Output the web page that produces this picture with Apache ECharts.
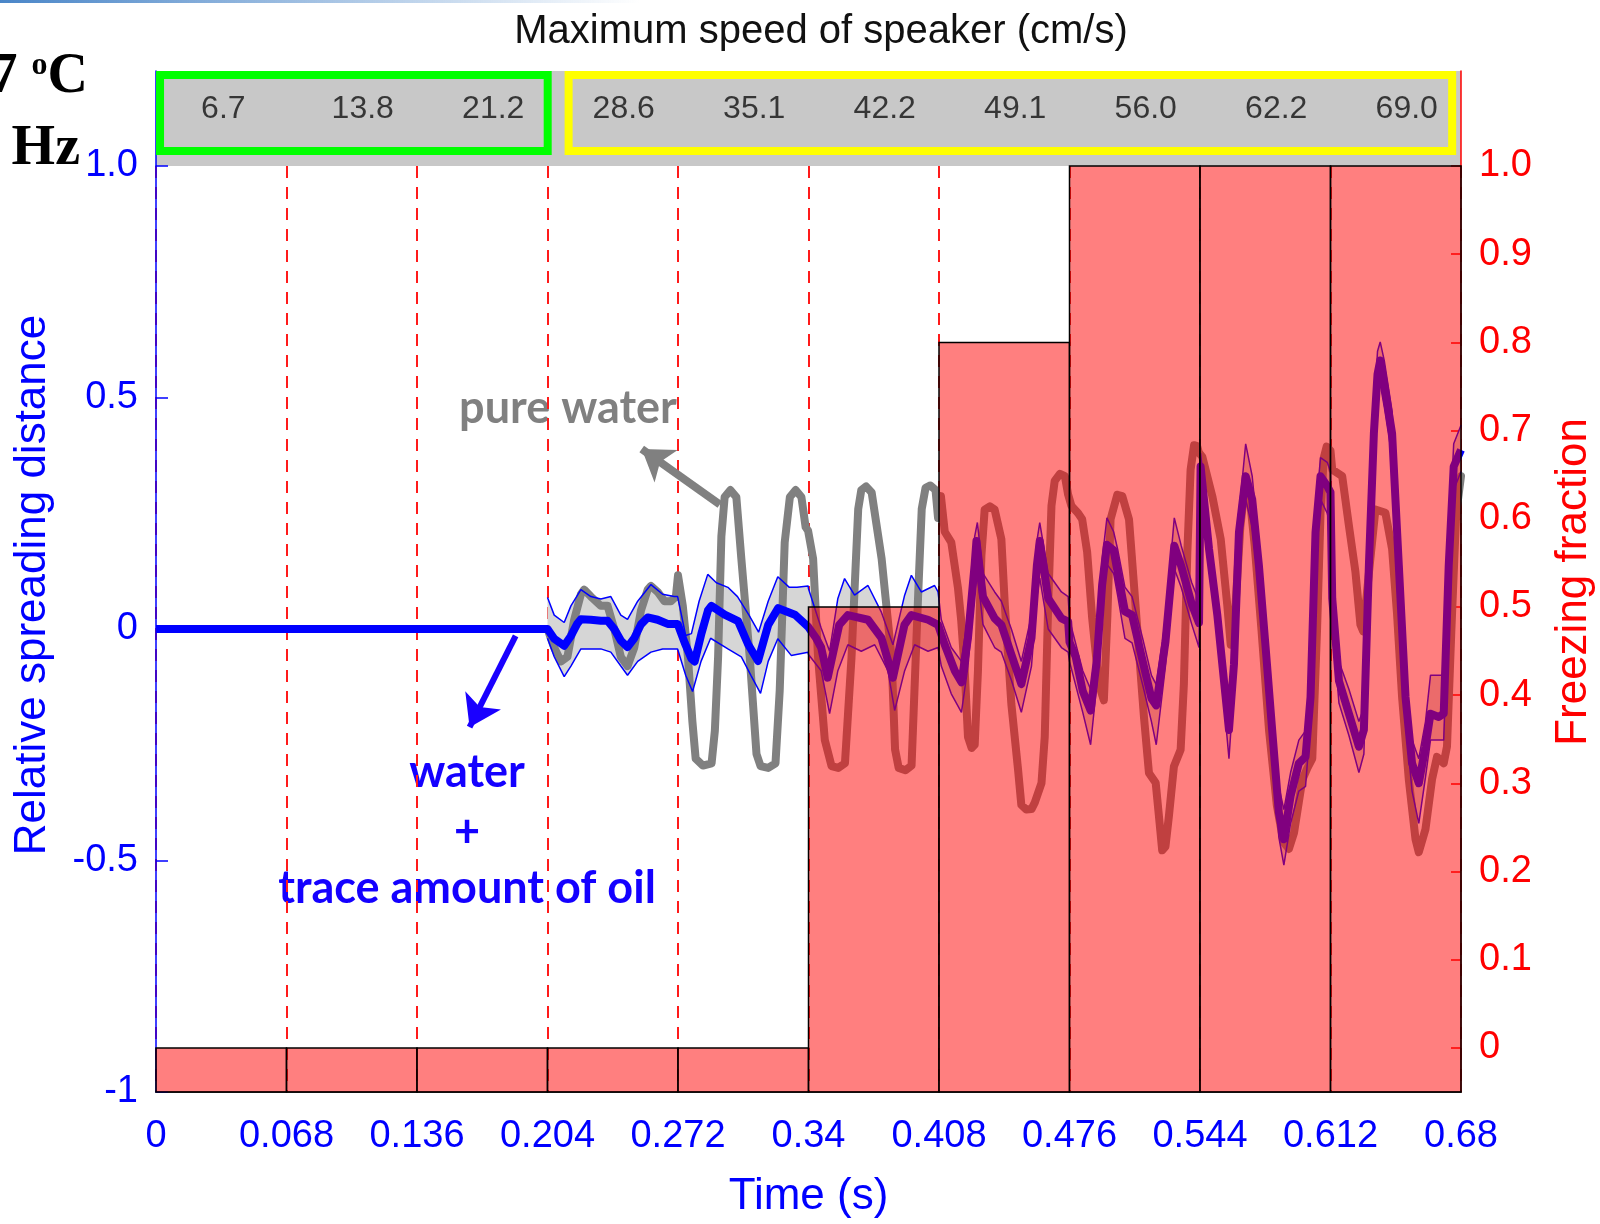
<!DOCTYPE html>
<html>
<head>
<meta charset="utf-8">
<title>Spreading distance and freezing fraction</title>
<script src="https://cdn.jsdelivr.net/npm/echarts@6/dist/echarts.min.js"></script>
<style>
  html, body { margin: 0; padding: 0; background: #fff; }
  #chart { width: 1600px; height: 1224px; }
</style>
</head>
<body>
<div id="chart"></div>
<script>
// --- data ---
var segEdges = [0, 0.068, 0.136, 0.204, 0.272, 0.34, 0.408, 0.476, 0.544, 0.612, 0.68];
var speeds = ['6.7', '13.8', '21.2', '28.6', '35.1', '42.2', '49.1', '56.0', '62.2', '69.0'];
var freezeFrac = [0, 0, 0, 0, 0, 0.5, 0.8, 1, 1, 1];
var freezeTicks = [0, 0.1, 0.2, 0.3, 0.4, 0.5, 0.6, 0.7, 0.8, 0.9, 1.0];

// water + trace amount of oil: mean curve
var meanOil = [
  [0, 0], [0.204, 0],
  [0.2075, -0.021], [0.2127, -0.036], [0.2162, -0.015], [0.2196, 0.012], [0.2214, 0.021], [0.2266, 0.02],
  [0.2318, 0.018], [0.2353, 0.018], [0.2388, 0.0], [0.2422, -0.025], [0.2457, -0.039], [0.2492, -0.02],
  [0.2527, 0.01], [0.2562, 0.025], [0.2614, 0.02], [0.2666, 0.011], [0.2718, 0.011],
  [0.2755, -0.03], [0.279, -0.064], [0.2807, -0.07], [0.2842, -0.01], [0.2876, 0.04], [0.2894, 0.05],
  [0.2963, 0.031], [0.3033, 0.017], [0.3085, -0.033], [0.3137, -0.069], [0.319, 0.009], [0.3242, 0.045],
  [0.3329, 0.031], [0.3398, 0.005],
  [0.344, -0.02], [0.3466, -0.04], [0.35, -0.105], [0.356, 0.009], [0.3605, 0.03], [0.371, 0.02],
  [0.378, -0.019], [0.384, -0.105], [0.39, 0.009], [0.3936, 0.03], [0.4023, 0.02], [0.4075, 0.009],
  [0.411, -0.034], [0.4162, -0.09], [0.4197, -0.115], [0.4231, -0.019], [0.4266, 0.14], [0.4275, 0.19],
  [0.4309, 0.07], [0.437, 0.023], [0.4405, 0.009], [0.4457, -0.055], [0.4509, -0.119], [0.4562, -0.019],
  [0.459, 0.137], [0.4605, 0.19], [0.4649, 0.066], [0.4718, 0.023], [0.4753, 0.016],
  [0.476, -0.028], [0.4792, -0.06], [0.4829, -0.134], [0.487, -0.176], [0.4902, -0.069], [0.493, 0.095],
  [0.4955, 0.182], [0.499, 0.17], [0.5012, 0.12], [0.5049, 0.038], [0.5086, 0.03], [0.5141, -0.069],
  [0.5187, -0.15], [0.5212, -0.165], [0.526, -0.028], [0.5306, 0.18], [0.5342, 0.136], [0.5397, 0.054],
  [0.5435, 0.013],
  [0.5443, 0.351], [0.5487, 0.173], [0.553, 0.031], [0.5565, -0.112], [0.5591, -0.218], [0.5617, -0.076],
  [0.5643, 0.209], [0.5678, 0.33], [0.5712, 0.28], [0.5747, 0.137], [0.5782, -0.04], [0.5816, -0.218],
  [0.5851, -0.397], [0.5877, -0.454], [0.5912, -0.361], [0.5955, -0.29], [0.599, -0.276], [0.6016, -0.147],
  [0.6042, 0.209], [0.6068, 0.33], [0.6103, 0.309], [0.612, 0.295],
  [0.6129, 0.066], [0.6164, -0.112], [0.6216, -0.183], [0.6268, -0.254], [0.6294, -0.218], [0.632, 0.137],
  [0.6346, 0.422], [0.6365, 0.55], [0.6379, 0.58], [0.64, 0.53], [0.6441, 0.422], [0.6476, 0.137],
  [0.6511, -0.147], [0.6545, -0.29], [0.658, -0.333], [0.6615, -0.254], [0.6641, -0.183], [0.6684, -0.19],
  [0.671, -0.183], [0.6736, 0.137], [0.6762, 0.351], [0.68, 0.387]
];

// thin upper / lower bounds around the mean
var upperOil = [
  [0.204, 0.068], [0.2075, 0.03], [0.2127, 0.014], [0.2162, 0.05], [0.2214, 0.085], [0.2266, 0.07],
  [0.2318, 0.065], [0.237, 0.07], [0.2422, 0.03], [0.2457, 0.021], [0.251, 0.06], [0.2579, 0.096],
  [0.264, 0.075], [0.27, 0.07], [0.2718, 0.07], [0.276, -0.014], [0.279, -0.01], [0.283, 0.06],
  [0.2875, 0.118], [0.292, 0.1], [0.298, 0.09], [0.303, 0.07], [0.309, 0.03], [0.314, -0.007],
  [0.319, 0.06], [0.324, 0.113], [0.33, 0.09], [0.334, 0.09], [0.3398, 0.093],
  [0.34, 0.087], [0.3466, 0.002], [0.351, -0.048], [0.3553, 0.066], [0.3588, 0.109], [0.364, 0.073],
  [0.371, 0.094], [0.3779, 0.037], [0.384, -0.034], [0.3901, 0.073], [0.3936, 0.116], [0.3988, 0.08],
  [0.4057, 0.094], [0.4075, 0.08],
  [0.4092, 0.02], [0.4144, -0.04], [0.4197, -0.07], [0.4231, 0.03], [0.4266, 0.2], [0.428, 0.23],
  [0.4309, 0.12], [0.437, 0.08], [0.4405, 0.06], [0.4457, 0.0], [0.4509, -0.07], [0.4562, 0.03],
  [0.459, 0.19], [0.4605, 0.23], [0.4649, 0.12], [0.4718, 0.08], [0.4753, 0.07],
  [0.476, 0.02], [0.4829, -0.09], [0.487, -0.13], [0.4902, -0.02], [0.493, 0.15], [0.4955, 0.24],
  [0.499, 0.21], [0.5012, 0.17], [0.5049, 0.09], [0.5086, 0.07], [0.5141, -0.02], [0.5187, -0.1],
  [0.5212, -0.12], [0.526, 0.02], [0.5306, 0.24], [0.5342, 0.18], [0.5397, 0.1], [0.5435, 0.06],
  [0.5443, 0.38], [0.5487, 0.21], [0.553, 0.07], [0.5565, -0.07], [0.5591, -0.17], [0.5617, -0.03],
  [0.5643, 0.25], [0.5678, 0.4], [0.5712, 0.33], [0.5747, 0.18], [0.5782, 0.0], [0.5816, -0.17],
  [0.5851, -0.34], [0.5877, -0.39], [0.5912, -0.31], [0.5955, -0.24], [0.599, -0.22], [0.6016, -0.1],
  [0.6042, 0.25], [0.6068, 0.37], [0.6103, 0.36], [0.612, 0.34],
  [0.6129, 0.11], [0.6164, -0.07], [0.6216, -0.13], [0.6268, -0.2], [0.6294, -0.17], [0.632, 0.18],
  [0.6346, 0.47], [0.6365, 0.6], [0.6379, 0.62], [0.64, 0.58], [0.6441, 0.47], [0.6476, 0.18],
  [0.6511, -0.1], [0.6545, -0.24], [0.658, -0.28], [0.6615, -0.2], [0.6641, -0.1], [0.6684, -0.1],
  [0.671, -0.1], [0.6736, 0.18], [0.6762, 0.4], [0.68, 0.44]
];
var lowerOil = [
  [0.204, -0.02], [0.2075, -0.06], [0.2127, -0.103], [0.2162, -0.08], [0.2214, -0.043], [0.2318, -0.043],
  [0.237, -0.05], [0.2422, -0.08], [0.2457, -0.1], [0.251, -0.07], [0.2579, -0.05], [0.264, -0.043],
  [0.2718, -0.043], [0.276, -0.1], [0.2796, -0.135], [0.284, -0.07], [0.289, -0.02], [0.298, -0.043],
  [0.305, -0.06], [0.31, -0.1], [0.315, -0.139], [0.319, -0.07], [0.324, -0.021], [0.331, -0.057],
  [0.3398, -0.05],
  [0.34, -0.055], [0.3466, -0.09], [0.351, -0.183], [0.3553, -0.09], [0.3605, -0.034], [0.3675, -0.048],
  [0.3745, -0.034], [0.3814, -0.09], [0.3849, -0.176], [0.3901, -0.09], [0.3953, -0.034], [0.4023, -0.048],
  [0.4075, -0.04],
  [0.4092, -0.08], [0.4144, -0.14], [0.4197, -0.18], [0.4231, -0.08], [0.4266, 0.08], [0.428, 0.12],
  [0.4309, 0.01], [0.437, -0.04], [0.4405, -0.05], [0.4457, -0.11], [0.4509, -0.18], [0.4562, -0.08],
  [0.459, 0.07], [0.4605, 0.11], [0.4649, 0.0], [0.4718, -0.04], [0.4753, -0.05],
  [0.476, -0.07], [0.4829, -0.18], [0.487, -0.25], [0.4902, -0.12], [0.493, 0.05], [0.4955, 0.14],
  [0.499, 0.12], [0.5012, 0.07], [0.5049, -0.02], [0.5086, -0.03], [0.5141, -0.12], [0.5187, -0.2],
  [0.5212, -0.25], [0.526, -0.08], [0.5306, 0.13], [0.5342, 0.09], [0.5397, 0.01], [0.5435, -0.04],
  [0.5443, 0.31], [0.5487, 0.13], [0.553, -0.01], [0.5565, -0.16], [0.5591, -0.28], [0.5617, -0.12],
  [0.5643, 0.16], [0.5678, 0.28], [0.5712, 0.22], [0.5747, 0.09], [0.5782, -0.09], [0.5816, -0.27],
  [0.5851, -0.45], [0.5877, -0.51], [0.5912, -0.42], [0.5955, -0.35], [0.599, -0.34], [0.6016, -0.2],
  [0.6042, 0.16], [0.6068, 0.28], [0.6103, 0.25], [0.612, 0.22],
  [0.6129, 0.02], [0.6164, -0.16], [0.6216, -0.23], [0.6268, -0.31], [0.6294, -0.27], [0.632, 0.09],
  [0.6346, 0.37], [0.6365, 0.5], [0.6379, 0.53], [0.64, 0.48], [0.6441, 0.37], [0.6476, 0.09],
  [0.6511, -0.2], [0.6545, -0.35], [0.658, -0.42], [0.6615, -0.32], [0.6641, -0.24], [0.6684, -0.24],
  [0.671, -0.24], [0.6736, 0.09], [0.6762, 0.3], [0.68, 0.34]
];

// pure water
var pureWater = [
  [0.204, 0.0], [0.2075, -0.04], [0.211, -0.07], [0.2144, -0.06], [0.2179, 0.02], [0.2214, 0.075],
  [0.2231, 0.085], [0.2266, 0.07], [0.2318, 0.05], [0.2353, 0.05], [0.2388, 0.0], [0.2422, -0.06],
  [0.2457, -0.08], [0.2492, -0.04], [0.2527, 0.04], [0.2562, 0.085], [0.2579, 0.093], [0.2614, 0.08],
  [0.2649, 0.06], [0.2683, 0.06], [0.2709, 0.07], [0.272, 0.116],
  [0.2745, 0.05], [0.2772, -0.062], [0.2795, -0.2], [0.2812, -0.28], [0.285, -0.295], [0.2895, -0.29],
  [0.2912, -0.22], [0.2929, -0.06], [0.2946, 0.2], [0.2963, 0.285], [0.2993, 0.3], [0.3024, 0.285],
  [0.305, 0.152], [0.3094, -0.062], [0.3129, -0.27], [0.315, -0.296], [0.319, -0.3], [0.3228, -0.29],
  [0.325, -0.133], [0.3276, 0.187], [0.3303, 0.285], [0.3333, 0.3], [0.3363, 0.285], [0.3385, 0.22],
  [0.3398, 0.212], [0.3424, 0.152], [0.345, -0.062], [0.3485, -0.24], [0.352, -0.296], [0.3555, -0.3],
  [0.359, -0.29], [0.3624, -0.062], [0.3659, 0.259], [0.3675, 0.3], [0.37, 0.308], [0.3729, 0.295],
  [0.3781, 0.152], [0.3833, -0.062], [0.3851, -0.26], [0.387, -0.3], [0.3905, -0.305], [0.3937, -0.295],
  [0.3972, 0.08], [0.399, 0.259], [0.401, 0.305], [0.4035, 0.31], [0.4062, 0.3], [0.4075, 0.24],
  [0.409, 0.287], [0.411, 0.21], [0.4144, 0.187], [0.4179, 0.088], [0.4196, 0.017], [0.4214, -0.09],
  [0.4231, -0.233], [0.425, -0.257], [0.4266, -0.25], [0.4283, -0.09], [0.4301, 0.159], [0.4318, 0.258],
  [0.4345, 0.265], [0.437, 0.258], [0.4405, 0.194], [0.4423, 0.052], [0.4457, -0.162], [0.4492, -0.304],
  [0.4509, -0.38], [0.4535, -0.39], [0.4562, -0.389], [0.4579, -0.375], [0.4614, -0.333], [0.4631, -0.233],
  [0.4649, 0.052], [0.4666, 0.266], [0.4683, 0.32], [0.471, 0.335], [0.4736, 0.33], [0.4753, 0.29],
  [0.477, 0.266], [0.4805, 0.25],
  [0.4826, 0.237], [0.4852, 0.166], [0.4878, 0.024], [0.4913, -0.119], [0.4939, -0.154], [0.4957, 0.024],
  [0.4974, 0.237], [0.5009, 0.29], [0.5035, 0.287], [0.507, 0.237], [0.5096, 0.095], [0.5122, -0.048],
  [0.5148, -0.19], [0.5174, -0.311], [0.5209, -0.332], [0.5226, -0.404], [0.5243, -0.478], [0.526, -0.47],
  [0.5278, -0.404], [0.5304, -0.297], [0.5339, -0.261], [0.5356, -0.119], [0.5374, 0.166], [0.5391, 0.344],
  [0.5409, 0.397], [0.5425, 0.395],
  [0.5434, 0.381], [0.5452, 0.372], [0.5504, 0.287], [0.5548, 0.194], [0.5582, 0.052], [0.56, -0.034],
  [0.5625, 0.05], [0.565, 0.22], [0.5672, 0.3], [0.57, 0.28], [0.5725, 0.18], [0.576, 0.0],
  [0.58, -0.22], [0.584, -0.38], [0.5875, -0.46], [0.5903, -0.475], [0.593, -0.44], [0.5973, -0.326],
  [0.6, -0.3], [0.6025, -0.28], [0.605, 0.0], [0.6068, 0.25], [0.6085, 0.37], [0.61, 0.394], [0.612, 0.385],
  [0.6129, 0.344], [0.6181, 0.33], [0.6216, 0.223], [0.625, 0.123], [0.6276, 0.009], [0.629, -0.005],
  [0.632, 0.12], [0.6354, 0.258], [0.6406, 0.251], [0.6441, 0.173], [0.6467, 0.031], [0.6493, -0.147],
  [0.6528, -0.325], [0.6563, -0.454], [0.658, -0.482], [0.6615, -0.432], [0.6649, -0.325], [0.6675, -0.276],
  [0.671, -0.29], [0.6727, -0.254], [0.675, 0.0], [0.6775, 0.25], [0.68, 0.33]
];

// annotation arrows, in data coordinates [from, to]
var grayArrow = [[0.2938, 0.269], [0.2531, 0.389]];
var blueArrow = [[0.1874, -0.015], [0.1634, -0.212]];

var FONT = "'Liberation Sans', Arial, sans-serif";
var NOTE_FONT = "bold 45px Lato, 'Noto Sans', sans-serif";
var BLUE = '#0000ff';
var RED = '#ff0000';
var FREEZE_MIN = -0.05;

var chart = echarts.init(document.getElementById('chart'), null, { renderer: 'canvas' });

var barData = freezeFrac.map(function (f, i) { return [segEdges[i], segEdges[i + 1], f]; });
// speed labels sit left-aligned a little inside each time segment
var headerLabels = speeds.map(function (s, i) { return [segEdges[i] + 0.0235, 0.6, s]; });

chart.setOption({
  animation: false,
  textStyle: { fontFamily: FONT },
  grid: [
    { left: 156, right: 139, top: 166, bottom: 121 },
    { left: 156, right: 139, top: 71, height: 95, show: true, backgroundColor: '#c8c8c8', borderWidth: 0 }
  ],
  xAxis: [
    {
      gridIndex: 0, type: 'value', min: 0, max: 0.68, interval: 0.068,
      name: 'Time (s)', nameLocation: 'middle', nameGap: 83,
      nameTextStyle: { color: BLUE, fontSize: 44, fontFamily: FONT },
      axisLine: { onZero: false, lineStyle: { color: '#000', width: 1.5 } },
      axisTick: { show: false },
      axisLabel: {
        color: BLUE, fontSize: 38, margin: 26, fontFamily: FONT,
        formatter: function (v) { return v === 0 ? '0' : String(parseFloat(v.toFixed(3))); }
      },
      splitLine: { show: true, lineStyle: { color: '#ff1a1a', width: 2, type: [12, 9] } }
    },
    { gridIndex: 1, type: 'value', min: 0, max: 0.68, show: false }
  ],
  yAxis: [
    {
      gridIndex: 0, type: 'value', min: -1, max: 1, interval: 0.5, position: 'left',
      axisLine: { show: true, onZero: false, lineStyle: { color: BLUE, width: 1.5 } },
      axisTick: { show: true, inside: true, length: 12, lineStyle: { color: BLUE, width: 1.5 } },
      axisLabel: {
        color: BLUE, fontSize: 38, margin: 18, fontFamily: FONT,
        formatter: function (v) { return v === 1 ? '1.0' : String(v); }
      },
      splitLine: { show: false }
    },
    {
      gridIndex: 0, type: 'value', min: FREEZE_MIN, max: 1.0, position: 'right',
      axisLine: { show: true, onZero: false, lineStyle: { color: RED, width: 1.5 } },
      axisTick: { show: true, inside: true, length: 10, customValues: freezeTicks, lineStyle: { color: RED, width: 1.5 } },
      axisLabel: {
        color: RED, fontSize: 38, margin: 18, fontFamily: FONT, customValues: freezeTicks,
        formatter: function (v) { return v === 0 ? '0' : v.toFixed(1); }
      },
      splitLine: { show: false }
    },
    {
      gridIndex: 1, type: 'value', min: 0, max: 1, position: 'left',
      axisLine: { show: true, onZero: false, lineStyle: { color: BLUE, width: 1.5 } },
      axisTick: { show: false }, axisLabel: { show: false }, splitLine: { show: false }
    },
    {
      gridIndex: 1, type: 'value', min: 0, max: 1, position: 'right',
      axisLine: { show: true, onZero: false, lineStyle: { color: RED, width: 1.5 } },
      axisTick: { show: false }, axisLabel: { show: false }, splitLine: { show: false }
    }
  ],
  series: [
    {
      // shaded band between the thin bounds
      type: 'custom', name: 'band', xAxisIndex: 0, yAxisIndex: 0, z: 2, silent: true,
      data: [[0.4, 0]],
      renderItem: function (params, api) {
        var pts = [];
        upperOil.forEach(function (p) { pts.push(api.coord(p)); });
        for (var i = lowerOil.length - 1; i >= 0; i--) pts.push(api.coord(lowerOil[i]));
        return { type: 'polygon', shape: { points: pts }, style: { fill: '#d6d6d6' } };
      }
    },
    {
      type: 'line', name: 'pure water', data: pureWater, showSymbol: false, z: 3, silent: true,
      lineStyle: { color: '#808080', width: 8, cap: 'round', join: 'round' }
    },
    {
      type: 'line', name: 'upper', data: upperOil, showSymbol: false, z: 4, silent: true,
      lineStyle: { color: BLUE, width: 1.5 }
    },
    {
      type: 'line', name: 'lower', data: lowerOil, showSymbol: false, z: 4, silent: true,
      lineStyle: { color: BLUE, width: 1.5 }
    },
    {
      type: 'line', name: 'water + oil', data: meanOil, showSymbol: false, z: 5, silent: true,
      lineStyle: { color: BLUE, width: 8, join: 'round' }
    },
    {
      // freezing fraction, semi transparent red over the curves
      type: 'custom', name: 'freezing', xAxisIndex: 0, yAxisIndex: 1, z: 6, silent: true,
      data: barData,
      encode: { x: [0, 1], y: 2 },
      renderItem: function (params, api) {
        var tl = api.coord([api.value(0), api.value(2)]);
        var br = api.coord([api.value(1), FREEZE_MIN]);
        return {
          type: 'rect',
          shape: { x: tl[0], y: tl[1], width: br[0] - tl[0], height: br[1] - tl[1] },
          style: { fill: 'rgba(255,0,0,0.5)', stroke: '#000', lineWidth: 1.5 }
        };
      }
    },
    {
      // arrows
      type: 'line', name: 'arrows', data: [], z: 7, silent: true,
      markLine: {
        silent: true, symbol: ['none', 'arrow'], symbolSize: 30,
        label: { show: false },
        data: [
          [{ coord: grayArrow[0], lineStyle: { color: '#808080', width: 8, type: 'solid' } }, { coord: grayArrow[1] }],
          [{ coord: blueArrow[0], lineStyle: { color: '#1a00ff', width: 6, type: 'solid' } }, { coord: blueArrow[1] }]
        ]
      }
    },
    {
      // header band with speed labels
      type: 'scatter', name: 'speeds', xAxisIndex: 1, yAxisIndex: 2, z: 3, silent: true,
      symbolSize: 0,
      data: headerLabels,
      label: {
        show: true, position: 'inside', align: 'left', color: '#111', fontSize: 32, fontFamily: FONT,
        formatter: function (p) { return p.data[2]; }
      },
      markArea: {
        silent: true,
        data: [
          [{ xAxis: 0.0021, yAxis: 0.158, itemStyle: { color: 'rgba(0,0,0,0)', borderColor: '#00ff00', borderWidth: 8 } },
           { xAxis: 0.2041, yAxis: 0.958 }],
          [{ xAxis: 0.215, yAxis: 0.158, itemStyle: { color: 'rgba(0,0,0,0)', borderColor: '#ffff00', borderWidth: 8 } },
           { xAxis: 0.6754, yAxis: 0.958 }]
        ]
      }
    }
  ],
  graphic: [
    {
      type: 'rect', left: 0, top: 0, silent: true,
      shape: { width: 640, height: 3 },
      style: {
        fill: new echarts.graphic.LinearGradient(0, 0, 1, 0, [
          { offset: 0, color: '#4a86c8' }, { offset: 1, color: 'rgba(74,134,200,0)' }
        ])
      }
    },
    {
      type: 'text', silent: true,
      style: { x: 821, y: 32, text: 'Maximum speed of speaker (cm/s)', fill: '#111', font: '40px ' + FONT, align: 'center', verticalAlign: 'middle' }
    },
    {
      // axis titles are centred on the full axes box (header included), as in the figure
      type: 'text', silent: true, x: 33, y: 585, rotation: Math.PI / 2,
      style: { x: 0, y: 0, text: 'Relative spreading distance', fill: BLUE, font: '44px ' + FONT, align: 'center', verticalAlign: 'middle' }
    },
    {
      type: 'text', silent: true, x: 1574, y: 582, rotation: Math.PI / 2,
      style: { x: 0, y: 0, text: 'Freezing fraction', fill: RED, font: '44px ' + FONT, align: 'center', verticalAlign: 'middle' }
    },
    {
      type: 'text', silent: true,
      style: {
        x: 88, y: 78, align: 'right', verticalAlign: 'middle',
        text: '{a|7 }{b|o}{a|C}',
        rich: {
          a: { fontSize: 56, fontWeight: 'bold', fontFamily: "'Liberation Serif', serif", fill: '#000' },
          b: { fontSize: 32, fontWeight: 'bold', fontFamily: "'Liberation Serif', serif", fill: '#000', verticalAlign: 'top' }
        }
      }
    },
    {
      type: 'text', silent: true,
      style: { x: 80, y: 150, text: 'Hz', fill: '#000', font: "bold 56px 'Liberation Serif', serif", align: 'right', verticalAlign: 'middle' }
    },
    {
      type: 'text', silent: true,
      style: { x: 568, y: 408, text: 'pure water', fill: '#808080', font: NOTE_FONT, align: 'center', verticalAlign: 'middle' }
    },
    {
      type: 'text', silent: true,
      style: { x: 467, y: 772, text: 'water', fill: '#1400ff', font: NOTE_FONT, align: 'center', verticalAlign: 'middle' }
    },
    {
      type: 'text', silent: true,
      style: { x: 467, y: 832, text: '+', fill: '#1400ff', font: NOTE_FONT, align: 'center', verticalAlign: 'middle' }
    },
    {
      type: 'text', silent: true,
      style: { x: 467, y: 888, text: 'trace amount of oil', fill: '#1400ff', font: NOTE_FONT, align: 'center', verticalAlign: 'middle' }
    }
  ]
});

window.addEventListener('resize', function () { chart.resize(); });
</script>
</body>
</html>
